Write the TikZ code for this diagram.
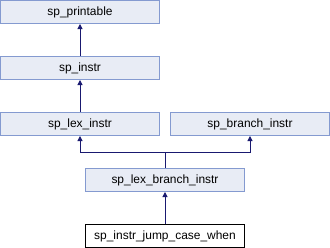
\documentclass[tikz,border=0pt]{standalone}
\usepackage{fontspec}
\setmainfont{Liberation Sans}
\usepackage{tikz}
\usetikzlibrary{positioning,arrows.meta}
\definecolor{clsfill}{RGB}{232,236,245}
\definecolor{clsedge}{RGB}{132,154,208}
\definecolor{inhblue}{RGB}{25,25,112}

\begin{document}
\begin{tikzpicture}[x=1bp, y=-1bp, font=\fontsize{12}{14}\selectfont,
  cls/.style={draw=clsedge, fill=clsfill, line width=1bp, minimum width=159bp, minimum height=23bp, inner sep=0pt},
  leaf/.style={draw=black, fill=white, line width=1bp, minimum width=159bp, minimum height=23bp, inner sep=0pt},
  inh/.style={draw=inhblue, line width=1bp, -{Triangle[length=5bp,width=5bp]}}]
\useasboundingbox (0,0) rectangle (330,248);

\node[cls] (printable) at (80,12) {sp\_printable};
\node[cls] (instr) at (80,68) {sp\_instr};
\node[cls] (lexinstr) at (80,124) {sp\_lex\_instr};
\node[cls] (branchinstr) at (250,124) {sp\_branch\_instr};
\node[cls] (lexbranch) at (165,180) {sp\_lex\_branch\_instr};
\node[leaf] (jumpcase) at (165,236) {sp\_instr\_jump\_case\_when};

\coordinate (split) at (165,152);

\draw[inh] (instr) -- (printable);
\draw[inh] (lexinstr) -- (instr);
\draw[inh] (lexbranch.north) -- (split) -| (lexinstr.south);
\draw[inh] (split) -| (branchinstr.south);
\draw[inh] (jumpcase) -- (lexbranch);
\end{tikzpicture}
\end{document}
